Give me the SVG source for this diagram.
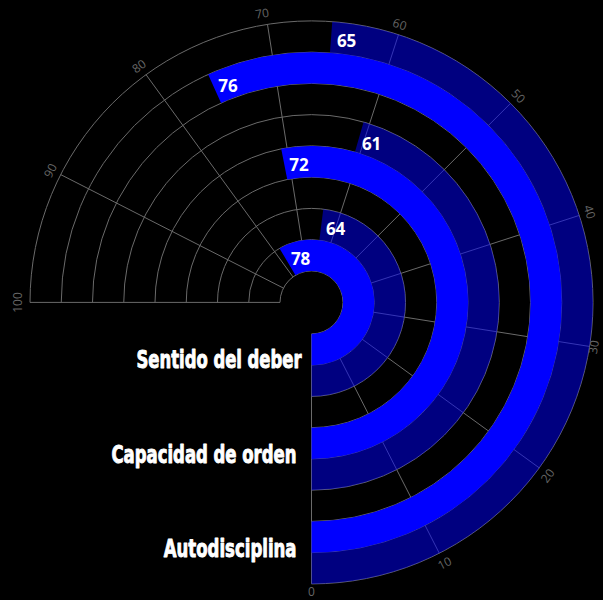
<svg xmlns="http://www.w3.org/2000/svg" width="603" height="600" viewBox="0 0 603 600">
  <style>
    .grid { fill: none; stroke: #6a6a6a; stroke-width: 1; }
    .bar1 { fill: #0000ff; stroke: none; }
    .bar2 { fill: #0000ff; fill-opacity: 0.5; stroke: none; }
    .tick { font-family: "Open Sans", "DejaVu Sans", sans-serif; font-size: 12px; fill: #666666; text-anchor: middle; dominant-baseline: central; }
    .val { font-family: "Open Sans", "DejaVu Sans", sans-serif; font-size: 17px; font-weight: bold; fill: #ffffff; }
    .cat { font-family: "Liberation Sans Narrow", "DejaVu Sans Condensed", "Roboto", sans-serif; font-size: 25px; font-weight: bold; fill: #ffffff; stroke: #ffffff; stroke-width: 0.9; stroke-linejoin: round; }
  </style>
  <rect x="0" y="0" width="603" height="600" fill="#000000"/>

  <g id="grid" class="grid">
    <path d="M311.5 333.9 A31.5 31.5 0 1 0 280 302.4"/>
    <path d="M311.5 365.15 A62.75 62.75 0 1 0 248.75 302.4"/>
    <path d="M311.5 396.4 A94 94 0 1 0 217.5 302.4"/>
    <path d="M311.5 427.65 A125.25 125.25 0 1 0 186.25 302.4"/>
    <path d="M311.5 458.9 A156.5 156.5 0 1 0 155 302.4"/>
    <path d="M311.5 490.15 A187.75 187.75 0 1 0 123.75 302.4"/>
    <path d="M311.5 521.4 A219 219 0 1 0 92.5 302.4"/>
    <path d="M311.5 552.65 A250.25 250.25 0 1 0 61.25 302.4"/>
    <path d="M311.5 583.9 A281.5 281.5 0 1 0 30 302.4"/>
    <path d="M311.5 333.9 L311.5 583.9"/>
    <path d="M325.8 330.47 L439.3 553.22"/>
    <path d="M336.98 320.92 L539.24 467.86"/>
    <path d="M342.61 307.33 L589.53 346.44"/>
    <path d="M341.46 292.67 L579.22 215.41"/>
    <path d="M333.77 280.13 L510.55 103.35"/>
    <path d="M321.23 272.44 L398.49 34.68"/>
    <path d="M306.57 271.29 L267.46 24.37"/>
    <path d="M292.98 276.92 L146.04 74.66"/>
    <path d="M283.43 288.1 L60.68 174.6"/>
    <path d="M280 302.4 L30 302.4"/>
  </g>

  <g id="axis-labels">
    <text class="tick" x="311.5" y="591.8">0</text>
    <text class="tick" x="444.5" y="563" transform="rotate(-27 444.5 563)">10</text>
    <text class="tick" x="547.5" y="475.5" transform="rotate(-54 547.5 475.5)">20</text>
    <text class="tick" x="593.5" y="347" transform="rotate(-81 593.5 347)">30</text>
    <text class="tick" x="589.8" y="211.8" transform="rotate(72 589.8 211.8)">40</text>
    <text class="tick" x="518.5" y="96" transform="rotate(45 518.5 96)">50</text>
    <text class="tick" x="399.8" y="24.2" transform="rotate(18 399.8 24.2)">60</text>
    <text class="tick" x="262" y="13.3" transform="rotate(-9 262 13.3)">70</text>
    <text class="tick" x="138.8" y="66" transform="rotate(-36 138.8 66)">80</text>
    <text class="tick" x="50.2" y="170.5" transform="rotate(-63 50.2 170.5)">90</text>
    <text class="tick" x="17.5" y="302.5" transform="rotate(-90 17.5 302.5)">100</text>
  </g>

  <g id="sentido-del-deber">
    <path class="bar1" d="M311.5 365.15 A62.75 62.75 0 1 0 279.56 248.39 L295.47 275.29 A31.5 31.5 0 1 1 311.5 333.9 Z"/>
    <path class="bar2" d="M311.5 396.4 A94 94 0 0 0 323.28 209.14 L319.37 240.15 A62.75 62.75 0 0 1 311.5 365.15 Z"/>
    <text class="val" x="290.9" y="265">78</text>
    <text class="val" x="325.9" y="235">64</text>
    <text class="cat" x="136.5" y="368.3" textLength="165" lengthAdjust="spacingAndGlyphs">Sentido del deber</text>
  </g>

  <g id="capacidad-de-orden">
    <path class="bar1" d="M311.5 458.9 A156.5 156.5 0 1 0 281.21 148.86 L287.26 179.52 A125.25 125.25 0 1 1 311.5 427.65 Z"/>
    <path class="bar2" d="M311.5 490.15 A187.75 187.75 0 0 0 363.6 122.02 L354.93 152.05 A156.5 156.5 0 0 1 311.5 458.9 Z"/>
    <text class="val" x="289.2" y="170.7">72</text>
    <text class="val" x="361.9" y="150">61</text>
    <text class="cat" x="111.5" y="463.3" textLength="185" lengthAdjust="spacingAndGlyphs">Capacidad de orden</text>
  </g>

  <g id="autodisciplina">
    <path class="bar1" d="M311.5 552.65 A250.25 250.25 0 1 0 208.16 74.48 L221.07 102.94 A219 219 0 1 1 311.5 521.4 Z"/>
    <path class="bar2" d="M311.5 583.9 A281.5 281.5 0 0 0 332.26 21.67 L329.96 52.83 A250.25 250.25 0 0 1 311.5 552.65 Z"/>
    <text class="val" x="218.2" y="92.3">76</text>
    <text class="val" x="336.9" y="47">65</text>
    <text class="cat" x="163.8" y="556.7" textLength="132.7" lengthAdjust="spacingAndGlyphs">Autodisciplina</text>
  </g>
</svg>
